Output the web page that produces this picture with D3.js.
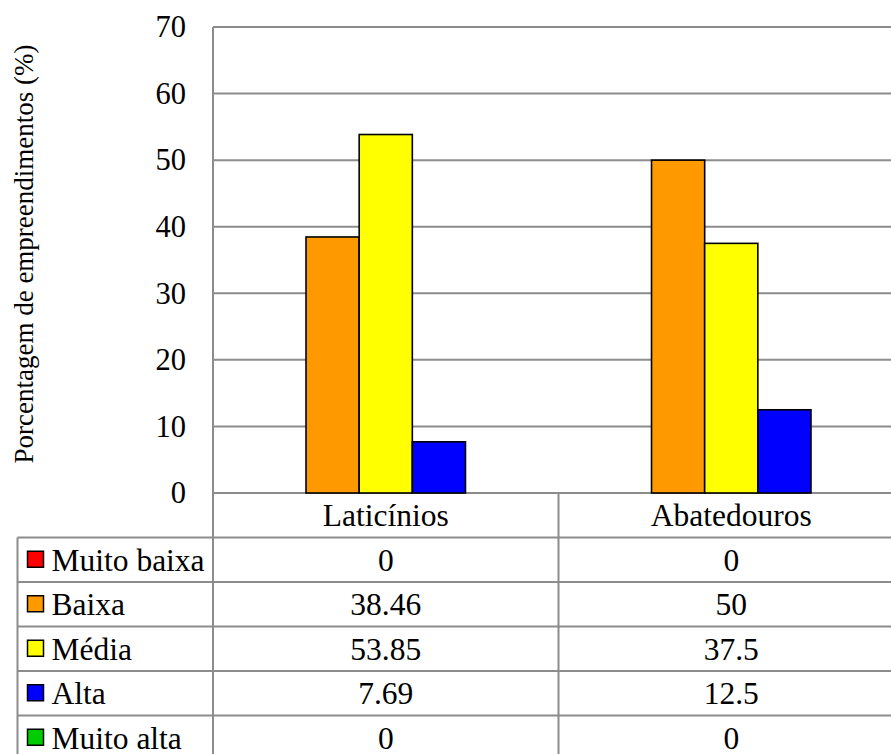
<!DOCTYPE html>
<html>
<head>
<meta charset="utf-8">
<script src="https://cdn.jsdelivr.net/npm/d3@7"></script>
</head>
<body style="margin:0;padding:0;background:#fff">
<svg id="chart" width="891" height="754" style="display:block"></svg>
<script>
// Categories, series and values
const categories = ["Laticínios", "Abatedouros"];
const seriesNames = ["Muito baixa", "Baixa", "Média", "Alta", "Muito alta"];
const seriesColors = ["#FF0000", "#FF9900", "#FFFF00", "#0000FF", "#00CC00"];
const muitoBaixa = [0, 0];
const baixa = [38.46, 50];
const media = [53.85, 37.5];
const alta = [7.69, 12.5];
const muitoAlta = [0, 0];
const yTicks = [0, 10, 20, 30, 40, 50, 60, 70];
const yTitle = "Porcentagem de empreendimentos (%)";

const seriesValues = [muitoBaixa, baixa, media, alta, muitoAlta];
const valueLabel = v => String(v);
const FONT = "'Liberation Serif', 'Times New Roman', Tinos, serif";

const svg = d3.select("#chart");
const gridColor = "#8c8c8c";

// Layout
const plotLeft = 213, plotRight = 904, plotTop = 27, plotBottom = 493;
const tableLeft = 17.5, rowH = 44.5;

const x0 = d3.scaleBand().domain(categories).range([plotLeft, plotRight]);
const bw = x0.bandwidth();
const groupW = bw * 5 / 6.5;           // gap width 150% of a bar
const x1 = d3.scaleBand().domain(seriesNames)
  .range([(bw - groupW) / 2, (bw + groupW) / 2]);
const y = d3.scaleLinear().domain([0, 70]).range([plotBottom, plotTop]);

// Horizontal gridlines
svg.append("g").selectAll("line").data(yTicks).join("line")
  .attr("x1", plotLeft).attr("x2", plotRight)
  .attr("y1", d => y(d)).attr("y2", d => y(d))
  .attr("stroke", gridColor).attr("stroke-width", 2);

// Left axis line
svg.append("line")
  .attr("x1", plotLeft).attr("x2", plotLeft)
  .attr("y1", plotTop).attr("y2", plotBottom + rowH * 6)
  .attr("stroke", gridColor).attr("stroke-width", 2);

// Y tick labels via d3 axis
const yAxis = d3.axisLeft(y).tickValues(yTicks).tickSize(0).tickPadding(0)
  .tickFormat(d3.format("d"));
const ga = svg.append("g").attr("transform", `translate(${plotLeft - 27},0)`).call(yAxis);
ga.select(".domain").remove();
ga.attr("font-family", null).attr("font-size", null);
ga.selectAll("text")
  .style("font-family", FONT).style("font-size", "30.5px").attr("fill", "#000");

// Y axis title
svg.append("text")
  .attr("transform", `translate(33,${(43 + 465) / 2}) rotate(-90)`)
  .attr("text-anchor", "middle")
  .style("font-family", FONT).style("font-size", "27px")
  .text(yTitle);

// Bars
const groups = svg.append("g").selectAll("g").data(categories).join("g")
  .attr("transform", d => `translate(${x0(d)},0)`);
groups.selectAll("rect")
  .data((c, ci) => seriesNames.map((s, si) => ({ s, si, v: seriesValues[si][ci] })))
  .join("rect")
  .attr("x", d => x1(d.s))
  .attr("width", x1.bandwidth())
  .attr("y", d => y(d.v))
  .attr("height", d => y(0) - y(d.v))
  .attr("fill", d => seriesColors[d.si])
  .attr("stroke", d => d.v > 0 ? "#000" : "none")
  .attr("stroke-width", 1.6);

// Data table
const table = svg.append("g");
const nRows = seriesNames.length;
// horizontal rules
const ruleYs = d3.range(nRows + 1).map(i => plotBottom + rowH * (i + 1));
table.selectAll("line.h").data(ruleYs).join("line")
  .attr("class", "h")
  .attr("x1", tableLeft).attr("x2", plotRight)
  .attr("y1", d => d).attr("y2", d => d)
  .attr("stroke", gridColor).attr("stroke-width", 2);
// left border of legend column
table.append("line")
  .attr("x1", tableLeft).attr("x2", tableLeft)
  .attr("y1", plotBottom + rowH).attr("y2", plotBottom + rowH * (nRows + 2))
  .attr("stroke", gridColor).attr("stroke-width", 2);
// category dividers
table.selectAll("line.v").data(categories.slice(1)).join("line")
  .attr("class", "v")
  .attr("x1", d => x0(d)).attr("x2", d => x0(d))
  .attr("y1", plotBottom).attr("y2", plotBottom + rowH * (nRows + 2))
  .attr("stroke", gridColor).attr("stroke-width", 2);

// header row with category names
table.selectAll("text.cat").data(categories).join("text")
  .attr("class", "cat")
  .attr("x", d => x0(d) + bw / 2)
  .attr("y", plotBottom + rowH / 2)
  .attr("dy", "0.35em")
  .attr("text-anchor", "middle")
  .style("font-family", FONT).style("font-size", "31.5px")
  .text(d => d);

// legend keys + names
const rows = table.selectAll("g.row").data(seriesNames).join("g")
  .attr("class", "row")
  .attr("transform", (d, i) => `translate(0,${plotBottom + rowH * (i + 1)})`);
rows.append("rect")
  .attr("x", 27.5).attr("y", rowH / 2 - 8.5)
  .attr("width", 16).attr("height", 16)
  .attr("fill", (d, i) => seriesColors[i])
  .attr("stroke", "#000").attr("stroke-width", 1.5);
rows.append("text")
  .attr("x", 51.5).attr("y", rowH / 2).attr("dy", "0.35em")
  .style("font-family", FONT).style("font-size", "31.5px")
  .text(d => d);
// values
rows.selectAll("text.val")
  .data((s, si) => categories.map((c, ci) => ({ c, v: seriesValues[si][ci] })))
  .join("text")
  .attr("class", "val")
  .attr("x", d => x0(d.c) + bw / 2)
  .attr("y", rowH / 2).attr("dy", "0.35em")
  .attr("text-anchor", "middle")
  .style("font-family", FONT).style("font-size", "31.5px")
  .text(d => valueLabel(d.v));
</script>
</body>
</html>
